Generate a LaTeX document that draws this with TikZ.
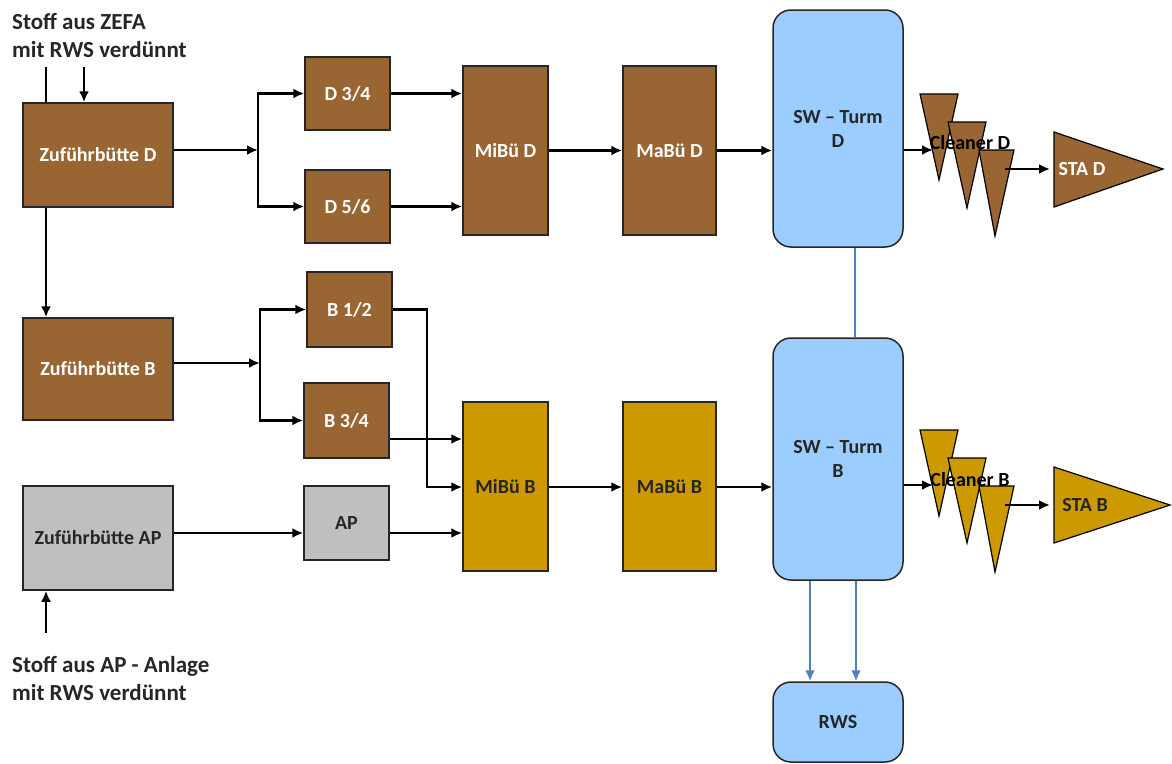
\documentclass[tikz,border=0pt]{standalone}
\usepackage{fontspec}
\setmainfont{Carlito}
\usepackage{tikz}
\usetikzlibrary{arrows.meta}

\definecolor{brownfill}{HTML}{996633}
\definecolor{goldfill}{HTML}{CC9900}
\definecolor{greyfill}{HTML}{BFBFBF}
\definecolor{towerblue}{HTML}{9BCDFF}
\definecolor{linkblue}{HTML}{4F81BD}
\definecolor{textdark}{HTML}{262626}

\begin{document}
\begin{tikzpicture}[x=1pt, y=-1pt,
    every node/.style={font=\fontsize{20}{24}\selectfont\bfseries},
    box/.style={draw=textdark, line width=1.5pt, inner sep=0pt},
    brownbox/.style={box, fill=brownfill, text=white},
    goldbox/.style={box, fill=goldfill, text=textdark},
    greybox/.style={box, fill=greyfill, text=textdark},
    tower/.style={box, fill=towerblue, text=textdark, rounded corners=18pt, align=center},
    flow/.style={line width=2.2pt, -{Latex[length=11pt, width=10pt]}},
    bluelink/.style={draw=linkblue, line width=2.2pt},
    blueflow/.style={bluelink, -{Latex[length=11pt, width=10pt]}},
    cone/.style={draw=black, line width=1.2pt},
    title/.style={font=\fontsize{23}{28}\selectfont\bfseries, text=textdark, align=left, anchor=west, inner sep=0pt}]
    \useasboundingbox (0,0) rectangle (1172,763);

    % feed texts
    \node[title] (zefa) at (12,36) {Stoff aus ZEFA\\mit RWS verdünnt};
    \node[title] (apanl) at (12,678) {Stoff aus AP - Anlage\\mit RWS verdünnt};

    % feed chests
    \node[brownbox, minimum width=150pt, minimum height=104pt] (zd) at (98,155) {Zuführbütte D};
    \node[brownbox, minimum width=150pt, minimum height=102pt] (zb) at (98,369) {Zuführbütte B};
    \node[greybox, minimum width=150pt, minimum height=104pt] (zap) at (98,538) {Zuführbütte AP};

    % small chests
    \node[brownbox, minimum width=85pt, minimum height=73pt] (d34) at (347.5,93.5) {D 3/4};
    \node[brownbox, minimum width=85pt, minimum height=73pt] (d56) at (347.5,206.5) {D 5/6};
    \node[brownbox, minimum width=85pt, minimum height=75pt] (b12) at (349.5,309.5) {B 1/2};
    \node[brownbox, minimum width=85pt, minimum height=75pt] (b34) at (346.5,420.5) {B 3/4};
    \node[greybox, minimum width=85pt, minimum height=74pt] (ap) at (346.5,523) {AP};

    % mixing and machine chests
    \node[brownbox, minimum width=85pt, minimum height=169pt] (mibud) at (505.5,150.5) {MiBü D};
    \node[brownbox, minimum width=93pt, minimum height=169pt] (mabud) at (669.5,150.5) {MaBü D};
    \node[goldbox, minimum width=85pt, minimum height=169pt] (mibub) at (505.5,486.5) {MiBü B};
    \node[goldbox, minimum width=93pt, minimum height=169pt] (mabub) at (669.5,486.5) {MaBü B};

    % towers
    \node[tower, minimum width=130pt, minimum height=237pt] (swd) at (838,128.5) {SW -- Turm\\D};
    \node[tower, minimum width=130pt, minimum height=242pt] (swb) at (838,459) {SW -- Turm\\B};
    \node[tower, minimum width=130pt, minimum height=80pt] (rws) at (838,722) {RWS};

    % cleaners
    \filldraw[cone, fill=brownfill] (920,94) -- (958,94) -- (939,180) -- cycle;
    \filldraw[cone, fill=brownfill] (948,122) -- (986,122) -- (967,208) -- cycle;
    \filldraw[cone, fill=brownfill] (979,150) -- (1014,150) -- (995,236) -- cycle;
    \filldraw[cone, fill=goldfill] (920,430) -- (958,430) -- (939,516) -- cycle;
    \filldraw[cone, fill=goldfill] (948,458) -- (986,458) -- (967,543) -- cycle;
    \filldraw[cone, fill=goldfill] (979,486) -- (1014,486) -- (995,572) -- cycle;
    \node[text=black] (cld) at (970,143) {Cleaner D};
    \node[text=black] (clb) at (970,480) {Cleaner B};

    % stock to headbox
    \filldraw[cone, fill=brownfill] (1054,132) -- (1163,169) -- (1054,207) -- cycle;
    \filldraw[cone, fill=goldfill] (1054,467) -- (1170,505) -- (1054,543) -- cycle;
    \node[text=white] (stad) at (1082,169) {STA D};
    \node[text=textdark] (stab) at (1085,505) {STA B};

    \coordinate (zefa1) at (46,67);
    \coordinate (zefa2) at (84,67);
    \coordinate (apin) at (46,633);
    \coordinate (jd) at (258,150);
    \coordinate (jb) at (260,363);
    \coordinate (bk) at (427,487);
    \coordinate (cldin) at (933,150);
    \coordinate (cldout) at (1005,169);
    \coordinate (stadin) at (1050,169);
    \coordinate (clbin) at (933,485);
    \coordinate (clbout) at (1005,505);
    \coordinate (stabin) at (1050,505);

    \draw[line width=2.2pt] (zefa1) -- (zefa1 |- zd.north);
    \draw[flow] (zefa1 |- zd.south) -- (zefa1 |- zb.north);
    \draw[flow] (zefa2) -- (zefa2 |- zd.north);
    \draw[flow] (apin) -- (apin |- zap.south);

    \draw[flow] (zd.east |- jd) -- (jd);
    \draw[flow] (jd) |- (d34.west);
    \draw[flow] (jd) |- (d56.west);
    \draw[flow] (d34.east) -- (d34.east -| mibud.west);
    \draw[flow] (d56.east) -- (d56.east -| mibud.west);
    \draw[flow] (mibud.east) -- (mabud.west);
    \draw[flow] (mabud.east) -- (mabud.east -| swd.west);

    \draw[flow] (zb.east |- jb) -- (jb);
    \draw[flow] (jb) |- (b12.west);
    \draw[flow] (jb) |- (b34.west);
    \draw[flow] (b12.east) -| (bk) -- (bk -| mibub.west);
    \draw[flow] (b34.east |- 0,439) -- (mibub.west |- 0,439);
    \draw[flow] (zap.east |- 0,533) -- (ap.west |- 0,533);
    \draw[flow] (ap.east |- 0,533) -- (mibub.west |- 0,533);
    \draw[flow] (mibub.east |- bk) -- (mabub.west |- bk);
    \draw[flow] (mabub.east |- bk) -- (swb.west |- bk);

    \draw[flow] (swd.east |- cldin) -- (cldin);
    \draw[flow] (cldout) -- (stadin);
    \draw[flow] (swb.east |- clbin) -- (clbin);
    \draw[flow] (clbout) -- (stabin);

    \draw[bluelink] (swd.south -| 855,0) -- (swb.north -| 855,0);
    \draw[blueflow] (swb.south -| 810,0) -- (rws.north -| 810,0);
    \draw[blueflow] (swb.south -| 856,0) -- (rws.north -| 856,0);
\end{tikzpicture}
\end{document}
